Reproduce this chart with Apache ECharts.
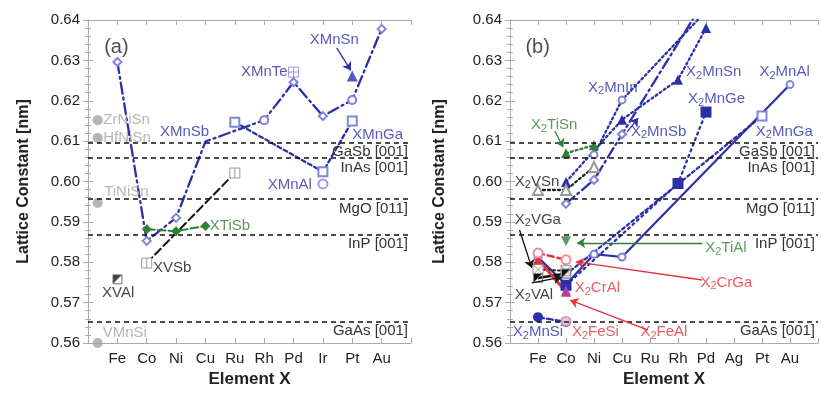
<!DOCTYPE html>
<html>
<head>
<meta charset="utf-8">
<script src="https://cdn.jsdelivr.net/npm/echarts@6/dist/echarts.min.js"></script>
<style>
  html, body { margin: 0; padding: 0; background: #fff; }
  #chart { width: 821px; height: 398px; }
</style>
</head>
<body>
<div id="chart"></div>
<script>
// element X on the two horizontal axes
var elementsA = ['Fe', 'Co', 'Ni', 'Cu', 'Ru', 'Rh', 'Pd', 'Ir', 'Pt', 'Au'];
var elementsB = ['Fe', 'Co', 'Ni', 'Cu', 'Ru', 'Rh', 'Pd', 'Ag', 'Pt', 'Au'];

// lattice constants [nm], one slot per element, null = no point
// (a) half-Heusler XYZ
var xMnSb = [0.6296, 0.5853, 0.5910, 0.6099, null, 0.6152, 0.6246, 0.6162, 0.6202, 0.6378];
var xMnSn = [null, null, null, null, null, null, null, null, 0.6261];
var xMnTe = [null, null, null, null, null, null, 0.6271];
var xMnGa = [null, null, null, null, 0.6147, null, null, 0.6024, 0.6150];
var xMnAl = [null, null, null, null, null, null, null, 0.5994];
var xVSb  = [null, 0.5798, null, null, 0.6021];
var xVAl  = [0.5758];
var xTiSb = [null, 0.5882, 0.5877, 0.5890];
// ternary compounds drawn left of Fe
var refNames  = ['ZrNiSn', 'HfNiSn', 'TiNiSn', 'VMnSi'];
var refValues = [0.6152, 0.6108, 0.5947, 0.5600];

// (b) full-Heusler X2YZ
var x2MnAl = [0.5812, 0.5745, 0.5820, 0.5813, null, null, null, null, null, 0.6240];
var x2MnGa = [null, 0.5770, 0.5825, null, null, null, null, null, 0.6162];
var x2MnGe = [null, 0.5743, null, null, null, 0.5995, 0.6172];
var x2MnSi = [0.5664, 0.5652];
var x2MnSb = [null, 0.5945, 0.6004, 0.6117, null, null, 0.6455];
var x2MnIn = [null, null, 0.6066, 0.6202, null, null, 0.6422];
var x2MnSn = [null, 0.5999, null, 0.6153, null, 0.6252, 0.6380];
var x2TiSn = [null, 0.6070, 0.6090];
var x2VSn  = [0.5979, 0.5979, 0.6036];
var x2VGa  = [0.5782, 0.5779];
var x2VAl  = [0.5761, 0.5772];
var x2CrAl = [0.5807, 0.5727];
var x2CrGa = [0.5823, 0.5806];
var x2TiAl = [null, 0.5852];
var x2FeSi = [null, 0.5654];
var x2FeAl = [null, 0.5730];

// substrate lattice matching lines
var substrates = ['GaSb [001]', 'InAs [001]', 'MgO [011]', 'InP [001]', 'GaAs [001]'];
var substrateValues = [0.6096, 0.6058, 0.5957, 0.5869, 0.5653];

var FONT = '"Liberation Sans", Arial, Helvetica, sans-serif';
var BLUE = '#2c30a8', LAV = '#7f85d8', GREEN = '#2f7f36', RED = '#e5323a';
var PINK = '#e58aa6', PURPLE = '#9a48c9', GRAY = '#a3a3a3', AX = '#ababab', INK = '#222';

var SQ_PLUS = 'path://M0 0H10V10H0Z M5 0V10 M0 5H10';
var SQ_BAR = 'path://M0 0H10V10H0Z M5 0V10';
var SQ_X = 'path://M0 0H10V10H0Z M0 0L10 10 M10 0L0 10';
var HALF_TRI = 'path://M0 0V10H10V0Z M10 0L10 10L0 10Z';

function pts(arr) {
    var out = [];
    arr.forEach(function (v, i) { if (v != null) out.push([i + 1, v]); });
    return out;
}

var chart = echarts.init(document.getElementById('chart'));

function xAxes(g, names) {
    var base = {
        gridIndex: g, type: 'value', min: 0, max: 11, interval: 1,
        axisLine: { show: true, lineStyle: { color: AX, width: 1 } },
        axisTick: { show: true, inside: true, length: 5, lineStyle: { color: AX } },
        splitLine: { show: false }
    };
    var bottom = Object.assign({}, base, {
        position: 'bottom',
        axisLabel: {
            color: INK, fontSize: 15, fontFamily: FONT, margin: 8,
            formatter: function (v) { return names[v - 1] || ''; }
        },
        name: 'Element X', nameLocation: 'middle', nameGap: 28,
        nameTextStyle: { color: INK, fontSize: 17, fontWeight: 'bold', fontFamily: FONT }
    });
    var top = Object.assign({}, base, { position: 'top', axisLabel: { show: false } });
    return [bottom, top];
}

function yAxes(g, gap) {
    var base = {
        gridIndex: g, type: 'value', min: 0.56, max: 0.64, interval: 0.01,
        axisLine: { show: true, lineStyle: { color: AX, width: 1 } },
        axisTick: { show: true, inside: true, length: 5, lineStyle: { color: AX } },
        minorTick: { show: true, splitNumber: 5, length: 3, lineStyle: { color: AX } },
        splitLine: { show: false }
    };
    var left = Object.assign({}, base, {
        position: 'left',
        axisLabel: {
            color: INK, fontSize: 15, fontFamily: FONT, margin: 8,
            formatter: function (v) { return v.toFixed(2); }
        },
        name: 'Lattice Constant [nm]', nameLocation: 'middle', nameGap: gap,
        nameTextStyle: { color: INK, fontSize: 16, fontWeight: 'bold', fontFamily: FONT }
    });
    var right = Object.assign({}, base, { position: 'right', axisLabel: { show: false } });
    return [left, right];
}

var series = [];

function line(ax, arr, color, dash, width, symbol, size, item, extra) {
    series.push(Object.assign({
        type: 'line', xAxisIndex: ax, yAxisIndex: ax, data: pts(arr),
        lineStyle: { color: color, width: width, type: dash, cap: 'round' },
        symbol: symbol, symbolSize: size, showAllSymbol: true,
        itemStyle: item, silent: true, z: 3
    }, extra || {}));
}

function dots(ax, arr, symbol, size, item, extra) {
    series.push(Object.assign({
        type: 'scatter', xAxisIndex: ax, yAxisIndex: ax, data: pts(arr),
        symbol: symbol, symbolSize: size, itemStyle: item, silent: true, z: 4
    }, extra || {}));
}

// ---------- panel (a) ----------
line(0, xMnSb, BLUE, [11, 4, 2, 4], 2.3, function (v) {
    if (v[0] === 6 || v[0] === 9) return 'emptyCircle';
    if (v[0] === 4) return 'none';
    return 'emptyDiamond';
}, 8, { color: LAV });
dots(0, xMnSn, 'triangle', 11, { color: BLUE });
dots(0, xMnTe, SQ_PLUS, 10, { color: '#fff', borderColor: LAV, borderWidth: 1 });
line(0, xMnGa, BLUE, [4, 3], 2.3, 'emptyRect', 9, { color: LAV });
dots(0, xMnAl, 'emptyCircle', 9, { color: LAV });
line(0, xVSb, '#111', [8, 4], 2, SQ_BAR, 10, { color: '#fff', borderColor: '#999', borderWidth: 1 });
dots(0, xVAl, HALF_TRI, 9, { color: '#111', borderColor: '#888', borderWidth: 1 });
line(0, xTiSb, GREEN, [8, 3], 2, 'diamond', 10, { color: GREEN });
series.push({
    type: 'scatter', xAxisIndex: 0, yAxisIndex: 0, silent: true,
    data: refValues.map(function (v) { return [0.33, v]; }),
    symbol: 'circle', symbolSize: 10, itemStyle: { color: GRAY }, z: 4
});

// ---------- panel (b) ----------
line(1, x2MnAl, BLUE, 'solid', 2.2, 'emptyCircle', 7, { color: LAV });
line(1, x2MnGa, BLUE, [3, 3], 2.3, function (v) { return v[0] === 9 ? 'emptyRect' : 'none'; }, 9, { color: LAV });
line(1, x2MnGe, BLUE, [2, 4], 2.3, 'rect', 11, { color: BLUE });
line(1, x2MnSi, BLUE, [6, 3], 2.3, 'circle', 10, { color: BLUE });
line(1, x2MnSb, BLUE, [11, 4, 2, 4], 2.3, 'emptyDiamond', 8, { color: LAV });
line(1, x2MnIn, BLUE, [2, 3], 2.3, 'emptyCircle', 7, { color: LAV });
line(1, x2MnSn, BLUE, [2, 3], 2.3, 'triangle', 10, { color: BLUE });
line(1, x2TiSn, GREEN, [2, 3], 2.3, 'triangle', 10, { color: GREEN });
line(1, x2VSn, '#222', [2, 3], 2.3, 'emptyTriangle', 10, { color: '#999' });
line(1, x2VGa, '#222', [2, 3], 2, SQ_X, 10, { color: '#fff', borderColor: '#999', borderWidth: 1 });
line(1, x2VAl, '#111', 'solid', 2.5, HALF_TRI, 9, { color: '#111', borderColor: '#888', borderWidth: 1 });
line(1, x2CrAl, RED, 'solid', 3, 'triangle', 10, { color: RED });
line(1, x2CrGa, RED, [6, 4], 2.5, 'emptyCircle', 9, { color: '#f08a90' });
dots(1, x2TiAl, 'triangle', 10, { color: GREEN }, { symbolRotate: 180 });
dots(1, x2FeSi, 'emptyCircle', 9, { color: PINK });
dots(1, x2FeAl, 'triangle', 10, { color: PURPLE });

// ---------- substrate lines ----------
[0, 1].forEach(function (ax) {
    series.push({
        type: 'line', xAxisIndex: ax, yAxisIndex: ax, data: [], silent: true,
        markLine: {
            silent: true, symbol: ['none', 'none'], animation: false, precision: 4,
            lineStyle: { color: '#111', type: [5, 4], width: 1.6 },
            label: {
                show: true, position: 'insideEndBottom', distance: [3, 2],
                formatter: '{b}', color: '#333', fontSize: 15, fontFamily: FONT
            },
            data: substrates.map(function (s, i) { return { name: s, yAxis: substrateValues[i] }; })
        }
    });
});

// ---------- text labels and arrows ----------
var RICH = {
    s: { fontSize: 11, fontFamily: FONT, verticalAlign: 'bottom', lineHeight: 18 }
};

function labels(ax, items, arrows) {
    series.push({
        type: 'scatter', xAxisIndex: ax, yAxisIndex: ax, silent: true, z: 6,
        symbol: 'circle', symbolSize: 0,
        data: items.map(function (t) {
            return {
                value: [t[0], t[1]],
                label: {
                    show: true, position: t[4] || 'right', distance: 0,
                    formatter: t[2], color: t[3], fontSize: t[5] || 15, fontFamily: FONT,
                    lineHeight: 18, rich: RICH
                }
            };
        }),
        markLine: {
            silent: true, animation: false, symbol: ['none', 'arrow'], symbolSize: 8,
            precision: 4, label: { show: false },
            data: arrows.map(function (a) {
                return [{ coord: [a[0], a[1]], lineStyle: { color: a[4], width: 1.3, type: 'solid' } },
                        { coord: [a[2], a[3]] }];
            })
        }
    });
}

labels(0, [
    [0.55, 0.6333, '(a)', INK, 'right', 20],
    [0.52, 0.6152, refNames[0], GRAY],
    [0.52, 0.6108, refNames[1], GRAY],
    [0.55, 0.5974, refNames[2], GRAY],
    [0.50, 0.5625, refNames[3], GRAY],
    [2.45, 0.6123, 'XMnSb', BLUE],
    [6.80, 0.6271, 'XMnTe', BLUE, 'left'],
    [7.55, 0.6350, 'XMnSn', BLUE],
    [9.00, 0.6115, 'XMnGa', BLUE],
    [6.12, 0.5991, 'XMnAl', BLUE],
    [2.21, 0.5786, 'XVSb', '#111'],
    [0.48, 0.5724, 'XVAl', '#111'],
    [4.15, 0.5890, 'XTiSb', GREEN]
], [
    [8.47, 0.6331, 8.95, 0.6275, BLUE]
]);

labels(1, [
    [0.55, 0.6333, '(b)', INK, 'right', 20],
    [2.79, 0.6232, 'X{s|2}MnIn', BLUE],
    [6.29, 0.6271, 'X{s|2}MnSn', BLUE],
    [6.36, 0.6204, 'X{s|2}MnGe', BLUE],
    [8.91, 0.6271, 'X{s|2}MnAl', BLUE],
    [8.78, 0.6123, 'X{s|2}MnGa', BLUE],
    [4.32, 0.6123, 'X{s|2}MnSb', BLUE],
    [0.75, 0.6140, 'X{s|2}TiSn', GREEN],
    [0.17, 0.5999, 'X{s|2}VSn', '#111'],
    [0.17, 0.5905, 'X{s|2}VGa', '#111'],
    [0.17, 0.5719, 'X{s|2}VAl', '#111'],
    [2.31, 0.5736, 'X{s|2}CrAl', RED],
    [0.10, 0.5627, 'X{s|2}MnSi', BLUE],
    [2.21, 0.5627, 'X{s|2}FeSi', RED],
    [4.66, 0.5627, 'X{s|2}FeAl', RED],
    [6.97, 0.5835, 'X{s|2}TiAl', GREEN],
    [6.80, 0.5749, 'X{s|2}CrGa', RED]
], [
    [1.60, 0.6125, 1.90, 0.6085, GREEN],
    [0.34, 0.5880, 0.78, 0.5786, '#111'],
    [0.78, 0.5749, 1.85, 0.5763, '#111'],
    [6.87, 0.5848, 2.40, 0.5848, GREEN],
    [6.87, 0.5756, 2.35, 0.5801, RED],
    [4.93, 0.5632, 2.15, 0.5706, RED],
    [4.18, 0.6123, 4.58, 0.6157, BLUE]
]);

var xa = xAxes(0, elementsA), xb = xAxes(1, elementsB);
var ya = yAxes(0, 56), yb = yAxes(1, 62);
// axis indices: 0,1 bottom/left axes; 2,3 mirrored top/right axes
var option = {
    animation: false,
    backgroundColor: '#fff',
    textStyle: { fontFamily: FONT },
    grid: [
        { left: 88, right: 410, top: 20, bottom: 55 },
        { left: 510, right: -13, top: 20, bottom: 55 }
    ],
    xAxis: [xa[0], xb[0], xa[1], xb[1]],
    yAxis: [ya[0], yb[0], ya[1], yb[1]],
    series: series
};
chart.setOption(option);
</script>
</body>
</html>
